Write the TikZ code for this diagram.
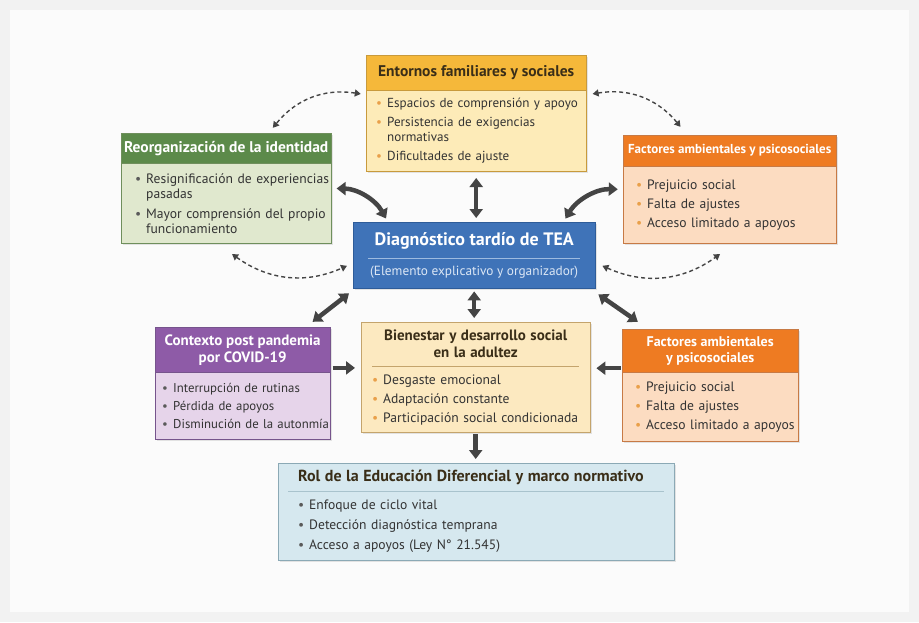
\documentclass[tikz,border=0pt]{standalone}
\usepackage{fontspec}
\setmainfont{PT Sans}
\usepackage{xcolor}
\usetikzlibrary{arrows.meta,positioning,fit,backgrounds,calc,shadows}

\definecolor{pagebg}{HTML}{F2F2F2}
\definecolor{sheet}{HTML}{FBFBFB}
\definecolor{arrowc}{HTML}{444444}
\definecolor{txt}{HTML}{333333}
\definecolor{darktitle}{HTML}{3A2E18}
\definecolor{entH}{HTML}{F5B83A}
\definecolor{entB}{HTML}{FDEBB8}
\definecolor{entD}{HTML}{C89A3C}
\definecolor{idH}{HTML}{5C8A4A}
\definecolor{idB}{HTML}{E0E8CE}
\definecolor{idD}{HTML}{6F8F5C}
\definecolor{facH}{HTML}{EE7B22}
\definecolor{facB}{HTML}{FCDCC1}
\definecolor{facD}{HTML}{C77A45}
\definecolor{diaF}{HTML}{3F73B8}
\definecolor{diaD}{HTML}{2E5C99}
\definecolor{diaL}{HTML}{9DBBE0}
\definecolor{diaS}{HTML}{DCE7F5}
\definecolor{ctxH}{HTML}{8E5BA7}
\definecolor{ctxB}{HTML}{E6D4EA}
\definecolor{ctxD}{HTML}{76548C}
\definecolor{bieB}{HTML}{FCE9C0}
\definecolor{bieD}{HTML}{C4A46C}
\definecolor{rolB}{HTML}{D6E8EF}
\definecolor{rolD}{HTML}{8BA9B5}
\definecolor{rolL}{HTML}{A9C3CD}
\definecolor{dotO}{HTML}{E9A04A}
\definecolor{dotG}{HTML}{5A5A5A}

% list lines: bullet + text, never broken
\newcommand{\itm}[2]{\mbox{\makebox[11pt][l]{\textcolor{#1}{\textbullet}}#2}}
\newcommand{\cont}[1]{\mbox{\hspace*{11pt}#1}}

\begin{document}
\begin{tikzpicture}[
    x=1pt, y=-1pt,
    hdr/.style={rectangle, anchor=north west, draw=#1, text=white, align=center, inner sep=2pt, font=\fontsize{15}{17}\selectfont\bfseries, drop shadow={shadow xshift=1.5pt, shadow yshift=-1.5pt, opacity=0.2}},
    body/.style={rectangle, anchor=north west, draw=#1, text=txt, align=left, inner xsep=13pt, inner ysep=3pt, font=\fontsize{13.6}{15}\selectfont, drop shadow={shadow xshift=1.5pt, shadow yshift=-1.5pt, opacity=0.2}},
    link/.style={{Triangle[length=9pt,width=13pt]}-{Triangle[length=9pt,width=13pt]}, line width=4.5pt, draw=arrowc},
    flow/.style={-{Triangle[length=9pt,width=13pt]}, line width=4.5pt, draw=arrowc},
    loose/.style={{Triangle[length=6pt,width=7pt]}-{Triangle[length=6pt,width=7pt]}, line width=1.4pt, dash pattern=on 4pt off 3pt, draw=arrowc}
]

\useasboundingbox (0,0) rectangle (919,622);
\fill[pagebg] (0,0) rectangle (919,622);
\fill[sheet] (10,10) rectangle (909,612);

% Entornos familiares y sociales
\node[hdr=entD, fill=entH, text=darktitle, minimum width=220pt, minimum height=35pt, font=\fontsize{15.5}{17}\selectfont\bfseries] (ent-h) at (366,55) {Entornos familiares y sociales};
\node[body=entD, fill=entB, text width=200pt, inner xsep=10pt, minimum height=81pt, font=\fontsize{13.1}{15}\selectfont] (ent-b) at (ent-h.south west) {%
    \itm{dotO}{Espacios de comprensión y apoyo}\\[4pt]
    \itm{dotO}{Persistencia de exigencias}\\
    \cont{normativas}\\[4pt]
    \itm{dotO}{Dificultades de ajuste}};
\node[fit=(ent-h)(ent-b), inner sep=0pt] (ent) {};

% Reorganización de la identidad
\node[hdr=idD, fill=idH, minimum width=210pt, minimum height=30pt, font=\fontsize{15.5}{17}\selectfont\bfseries] (idn-h) at (121,133) {Reorganización de la identidad};
\node[body=idD, fill=idB, text width=182pt, inner xsep=14pt, minimum height=80pt] (idn-b) at (idn-h.south west) {%
    \itm{dotG}{Resignificación de experiencias}\\
    \cont{pasadas}\\[5pt]
    \itm{dotG}{Mayor comprensión del propio}\\
    \cont{funcionamiento}};
\node[fit=(idn-h)(idn-b), inner sep=0pt] (idn) {};

% Factores ambientales (arriba)
\node[hdr=facD, fill=facH, minimum width=213pt, minimum height=31pt, font=\fontsize{13}{15}\selectfont\bfseries] (fac-h) at (623,135) {Factores ambientales y psicosociales};
\node[body=facD, fill=facB, text width=187pt, minimum height=77pt] (fac-b) at (fac-h.south west) {%
    \itm{dotO}{Prejuicio social}\\[4pt]
    \itm{dotO}{Falta de ajustes}\\[4pt]
    \itm{dotO}{Acceso limitado a apoyos}};
\node[fit=(fac-h)(fac-b), inner sep=0pt] (fac) {};

% Diagnóstico (centro)
\node[hdr=diaD, fill=diaF, minimum width=242pt, minimum height=66pt] (dia) at (353,222) {%
    {\fontsize{18}{20}\selectfont\bfseries Diagnóstico tardío de TEA}\\[-3pt]
    \textcolor{diaL}{\rule{212pt}{0.8pt}}\\[-1pt]
    {\fontsize{13.3}{15}\selectfont\mdseries\color{diaS}(Elemento explicativo y organizador)}};

% Contexto post pandemia
\node[hdr=ctxD, fill=ctxH, minimum width=175pt, minimum height=45pt] (ctx-h) at (155,327) {Contexto post pandemia\\por COVID-19};
\node[body=ctxD, fill=ctxB, text width=161pt, inner xsep=7pt, minimum height=67pt, font=\fontsize{12.8}{15}\selectfont] (ctx-b) at (ctx-h.south west) {%
    \itm{dotG}{Interrupción de rutinas}\\[3pt]
    \itm{dotG}{Pérdida de apoyos}\\[3pt]
    \itm{dotG}{Disminución de la autonmía}};
\node[fit=(ctx-h)(ctx-b), inner sep=0pt] (ctx) {};

% Bienestar y desarrollo social
\node[body=bieD, fill=bieB, text width=207pt, inner xsep=11pt, minimum height=110pt] (bie) at (361,322) {%
    \makebox[\hsize]{\fontsize{15}{18}\selectfont\bfseries\color{darktitle}Bienestar y desarrollo social}\\[2pt]
    \makebox[\hsize]{\fontsize{15}{18}\selectfont\bfseries\color{darktitle}en la adultez}\\[-5pt]
    \textcolor{bieD}{\rule{\hsize}{0.8pt}}\\[2pt]
    \itm{dotO}{Desgaste emocional}\\[4pt]
    \itm{dotO}{Adaptación constante}\\[4pt]
    \itm{dotO}{Participación social condicionada}};

% Factores ambientales (derecha)
\node[hdr=facD, fill=facH, minimum width=176pt, minimum height=43pt, font=\fontsize{14}{16}\selectfont\bfseries] (mfr-h) at (622,329) {Factores ambientales\\y psicosociales};
\node[body=facD, fill=facB, text width=150pt, minimum height=69pt] (mfr-b) at (mfr-h.south west) {%
    \itm{dotO}{Prejuicio social}\\[4pt]
    \itm{dotO}{Falta de ajustes}\\[4pt]
    \itm{dotO}{Acceso limitado a apoyos}};
\node[fit=(mfr-h)(mfr-b), inner sep=0pt] (mfr) {};

% Rol de la Educación Diferencial
\node[body=rolD, fill=rolB, text width=376pt, inner xsep=10pt, minimum height=97pt] (rol) at (278,463) {%
    \hspace*{10pt}{\fontsize{16}{18}\selectfont\bfseries\color{darktitle}Rol de la Educación Diferencial y marco normativo}\\[-5pt]
    \textcolor{rolL}{\rule{\hsize}{0.8pt}}\\[3pt]
    \hspace*{10pt}\itm{dotG}{Enfoque de ciclo vital}\\[5pt]
    \hspace*{10pt}\itm{dotG}{Detección diagnóstica temprana}\\[5pt]
    \hspace*{10pt}\itm{dotG}{Acceso a apoyos (Ley N° 21.545)}};

% Connections
\draw[link, shorten <=6pt, shorten >=4pt] (ent.south) -- (ent.south |- dia.north);
\draw[link, shorten <=5pt, shorten >=4pt] (idn.east) to[bend left=30] ([xshift=35pt]dia.north west);
\draw[link, shorten <=5pt, shorten >=4pt] (fac.west) to[bend right=30] ([xshift=-32pt]dia.north east);
\draw[link, shorten <=3pt, shorten >=4pt] (dia.south) -- (dia.south |- bie.north);
\draw[link] ([xshift=-4pt,yshift=-5pt]dia.south west) -- ([xshift=-18pt,yshift=5pt]ctx.north east);
\draw[link] ([xshift=3pt,yshift=-6pt]dia.south east) -- ([xshift=16pt,yshift=7pt]mfr.north west);

\draw[flow, shorten <=2pt, shorten >=6pt] (ctx.10) -- (ctx.10 -| bie.west);
\draw[flow, shorten <=1pt, shorten >=6pt] (mfr.169) -- (mfr.169 -| bie.east);
\draw[flow, shorten <=2pt, shorten >=4pt] (bie.south) -- (bie.south |- rol.north);

% Dashed links
\draw[loose] ([xshift=-5pt]ent.170) to[bend right=30] ([yshift=5pt]idn.50);
\draw[loose] ([xshift=6pt]ent.10) to[bend left=30] ([yshift=8pt]fac.132);
\draw[loose] ([yshift=-10pt]idn.-84) to[bend right=30] ([xshift=-6pt]dia.185);
\draw[loose] ([xshift=7pt]dia.-5) to[bend right=30] ([yshift=-10pt]fac.-100);

\end{tikzpicture}
\end{document}
